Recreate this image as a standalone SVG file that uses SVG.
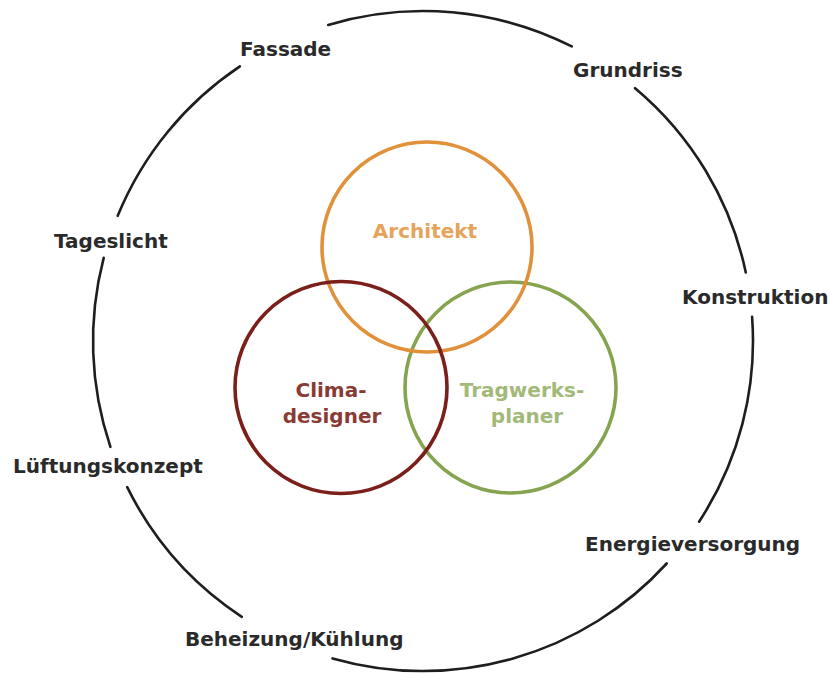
<svg xmlns="http://www.w3.org/2000/svg" width="830" height="673" viewBox="0 0 830 673">
  <style>
    .ring { fill: none; stroke: #1e1e1e; stroke-width: 2.6; stroke-linecap: round; }
    .lbl { font-family: "DejaVu Sans", "Verdana", sans-serif; font-weight: bold; font-size: 20px; fill: #2a2a2a; }
    .role { fill: none; stroke-width: 3.6; }
    .rtxt { font-family: "DejaVu Sans", "Verdana", sans-serif; font-weight: bold; font-size: 20px; text-anchor: middle; }
  </style>
  <rect width="830" height="673" fill="#ffffff"/>

  <!-- outer ring, broken where the topics sit (center 423,341 r 330) -->
  <g id="connectors">
    <path class="ring" d="M328.2,24.9 A330,330 0 0 1 571.8,46.4"/>
    <path class="ring" d="M635.1,88.2 A330,330 0 0 1 745.8,272.4"/>
    <path class="ring" d="M752.1,316.8 A330,330 0 0 1 699.1,521.7"/>
    <path class="ring" d="M666.7,563.5 A330,330 0 0 1 332.6,658.4"/>
    <path class="ring" d="M241.8,616.8 A330,330 0 0 1 127.2,487.2"/>
    <path class="ring" d="M110.4,446.8 A330,330 0 0 1 103.7,257.8"/>
    <path class="ring" d="M117.7,215.8 A330,330 0 0 1 239.9,66.4"/>
  </g>

  <!-- topics around the ring -->
  <g id="fassade"><text class="lbl" x="240" y="56">Fassade</text></g>
  <g id="grundriss"><text class="lbl" x="573" y="77">Grundriss</text></g>
  <g id="konstruktion"><text class="lbl" x="682" y="304">Konstruktion</text></g>
  <g id="energieversorgung"><text class="lbl" x="585" y="551">Energieversorgung</text></g>
  <g id="beheizung"><text class="lbl" x="185" y="646">Beheizung/Kühlung</text></g>
  <g id="lueftungskonzept"><text class="lbl" x="13" y="473">Lüftungskonzept</text></g>
  <g id="tageslicht"><text class="lbl" x="54" y="248">Tageslicht</text></g>

  <!-- the three planning roles -->
  <g id="tragwerksplaner">
    <circle class="role" cx="510.5" cy="387.5" r="105.5" stroke="#86a34f"/>
    <text class="rtxt" fill="#a3b97a"><tspan x="522" y="397">Tragwerks-</tspan><tspan x="527" y="423">planer</tspan></text>
  </g>
  <g id="architekt">
    <circle class="role" cx="427" cy="247" r="105" stroke="#e0913a"/>
    <text class="rtxt" fill="#e6a35c" x="425" y="238">Architekt</text>
  </g>
  <g id="climadesigner">
    <circle class="role" cx="341" cy="387.5" r="106" stroke="#7b1f1a"/>
    <text class="rtxt" fill="#8a3a35"><tspan x="331" y="397">Clima-</tspan><tspan x="332" y="423">designer</tspan></text>
  </g>
</svg>
